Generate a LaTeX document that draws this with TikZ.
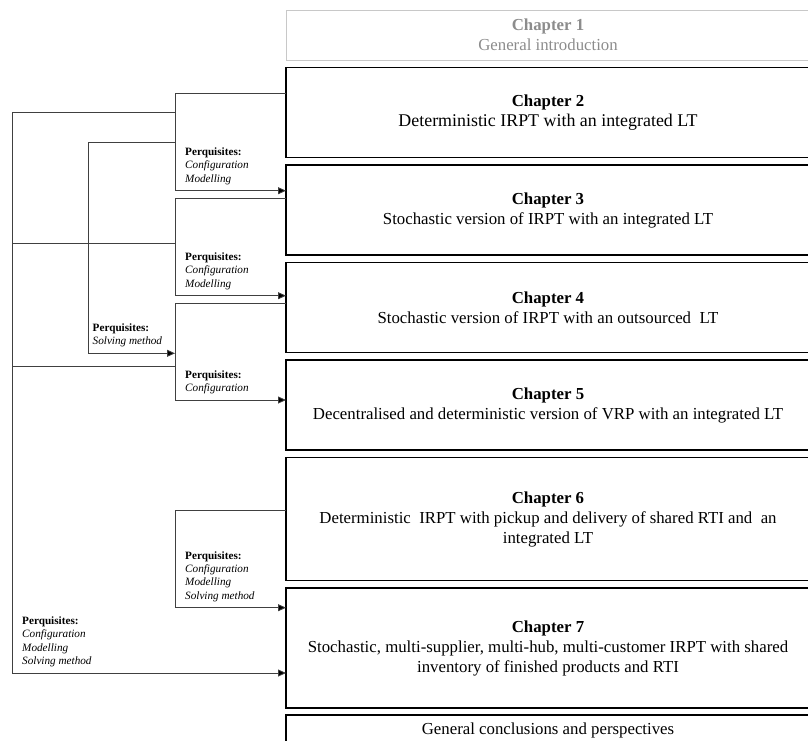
\documentclass[tikz,border=0pt]{standalone}
\usepackage{fontspec}
\setmainfont{Liberation Serif}
\usepackage{tikz}
\usetikzlibrary{arrows.meta,positioning}
\definecolor{introgrey}{HTML}{8C8C8C}
\definecolor{introline}{HTML}{C8C8C8}
\newcommand{\chap}[2]{\textbf{Chapter #1}\\#2}
\newcommand{\perq}[1]{\textbf{Perquisites:}\\#1}

\begin{document}
\begin{tikzpicture}[x=1pt,y=1pt,
  box/.style={draw=black,line width=1.4pt,outer sep=0pt,minimum width=524pt,align=center,inner sep=0pt,font=\fontsize{16.8}{20}\selectfont},
  intro/.style={box,draw=introline,line width=1pt,text=introgrey},
  prq/.style={align=left,inner xsep=0pt,inner ysep=6pt,font=\fontsize{11.2}{13.3}\selectfont},
  link/.style={line width=0.8pt,draw=black!75},
  arr/.style={link,-{Triangle[length=8pt,width=7pt,fill=black]}}]
  \useasboundingbox (0,0) rectangle (808,-740);
  \clip (0,0) rectangle (808,-740);
  % chapters
  \node[intro,minimum height=50pt,anchor=north west] (ch1) at (286,-10) {\chap{1}{General introduction}};
  \node[box,minimum height=90pt,below=7.5pt of ch1] (ch2) {\chap{2}{\fontsize{17.9}{20}\selectfont Deterministic IRPT with an integrated LT}};
  \node[box,minimum height=90pt,below=7.5pt of ch2] (ch3) {\chap{3}{Stochastic version of IRPT with an integrated LT}};
  \node[box,minimum height=90pt,below=7.5pt of ch3] (ch4) {\chap{4}{Stochastic version of IRPT with an outsourced~ LT}};
  \node[box,minimum height=90pt,below=7.5pt of ch4] (ch5) {\chap{5}{Decentralised and deterministic version of VRP with an integrated LT}};
  \node[box,minimum height=123pt,below=7.5pt of ch5] (ch6) {\chap{6}{Deterministic~ IRPT with pickup and delivery of shared RTI and~ an\\integrated LT}};
  \node[box,minimum height=120pt,below=7.5pt of ch6] (ch7) {\chap{7}{Stochastic, multi-supplier, multi-hub, multi-customer IRPT with shared\\inventory of finished products and RTI}};
  \node[box,minimum height=30pt,below=7pt of ch7] (concl) {General conclusions and perspectives};
  % corners
  \coordinate (b1) at (175,-93);
  \coordinate (b1e) at (175,-190.7);
  \coordinate (b2) at (175,-198.3);
  \coordinate (b2e) at (175,-295.7);
  \coordinate (b3) at (175,-303.3);
  \coordinate (b3e) at (175,-400);
  \coordinate (b4) at (175,-510.7);
  \coordinate (b4e) at (175,-607.7);
  \coordinate (o1) at (12,-112.7);
  \coordinate (o2) at (12,-673);
  \coordinate (o3) at (12,-243.5);
  \coordinate (o4) at (12,-366.7);
  \coordinate (m1) at (88,-142.3);
  \coordinate (m2) at (88,-353.3);
  % links
  \draw[arr] (ch2.west |- b1) -- (b1) -- (b1e) -- (ch3.west |- b1e);
  \draw[arr] (ch3.west |- b2) -- (b2) -- (b2e) -- (ch4.west |- b2e);
  \draw[arr] (ch4.west |- b3) -- (b3) -- (b3e) -- (ch5.west |- b3e);
  \draw[arr] (ch6.west |- b4) -- (b4) -- (b4e) -- (ch7.west |- b4e);
  \draw[arr] (b1 |- o1) -- (o1) -- (o2) -- (ch7.west |- o2);
  \draw[link] (o3) -- (b2 |- o3);
  \draw[link] (o4) -- (b3 |- o4);
  \draw[arr] (b1 |- m1) -- (m1) -- (m2) -- (b3 |- m2);
  % perquisites
  \node[prq,above right=0pt and 10pt of b1e] (p1) {\perq{\textit{Configuration}\\\textit{Modelling}}};
  \node[prq,above right=0pt and 10pt of b2e] (p2) {\perq{\textit{Configuration}\\\textit{Modelling}}};
  \node[prq,above right=0pt and 10pt of b3e] (p3) {\perq{\textit{Configuration}}};
  \node[prq,above right=0pt and 10pt of b4e] (p4) {\perq{\textit{Configuration}\\\textit{Modelling}\\\textit{Solving method}}};
  \node[prq,above right=0pt and 4.5pt of m2] (p5) {\perq{\textit{Solving method}}};
  \node[prq,above right=0pt and 10pt of o2] (p6) {\perq{\textit{Configuration}\\\textit{Modelling}\\\textit{Solving method}}};
\end{tikzpicture}
\end{document}
